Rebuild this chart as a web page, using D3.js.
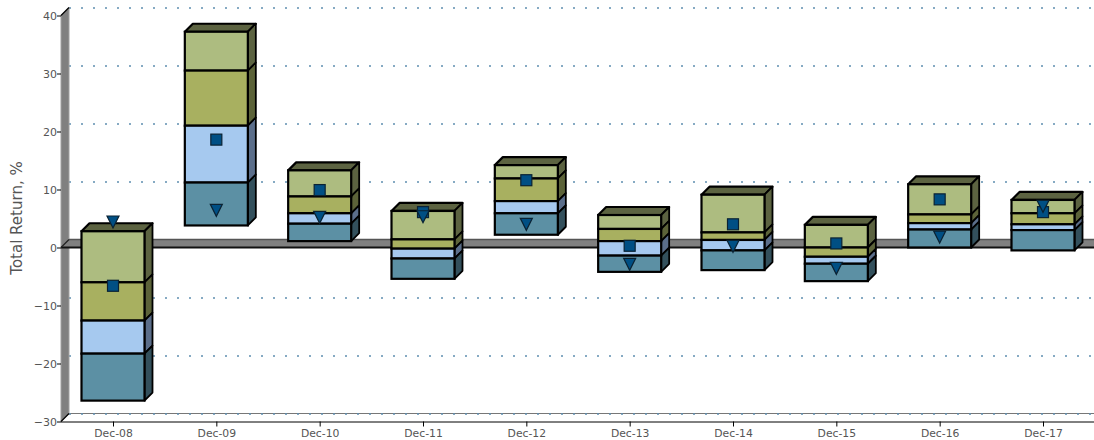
<!DOCTYPE html>
<html><head><meta charset="utf-8">
<script src="https://cdn.jsdelivr.net/npm/d3@7"></script>
<style>html,body{margin:0;padding:0;background:#fff}svg{display:block}text{font-family:"DejaVu Sans",sans-serif}</style>
</head><body><svg id="c" width="1094" height="440"></svg>
<script>
const categories=["Dec-08","Dec-09","Dec-10","Dec-11","Dec-12","Dec-13","Dec-14","Dec-15","Dec-16","Dec-17"];
const band95=[2.8,37.2,13.3,6.3,14.2,5.6,9.1,3.9,10.9,8.2];
const band75=[-6,30.5,8.8,1.4,11.9,3.2,2.6,0,5.7,5.9];
const band50=[-12.6,21,5.9,-0.2,8,1.1,1.3,-1.6,4.2,4];
const band25=[-18.3,11.2,4.1,-1.9,5.9,-1.4,-0.5,-2.8,3.1,3];
const band5=[-26.4,3.8,1.1,-5.4,2.2,-4.2,-3.9,-5.8,0,-0.5];
const fund=[-6.6,18.6,9.9,6.1,11.6,0.3,4,0.7,8.3,6.1];
const benchmark=[4.4,6.4,5.2,5.3,4,-2.9,0.2,-3.6,1.8,7.1];
const yTicks=[40,30,20,10,0,-10,-20,-30];
const bandFill=["#adbc80","#a8b060","#a6c9ef","#5c90a4"];
const bandSide=["#5c6341","#5c6339","#5b6e8a","#33505c"];
const topFill="#5c6341", marker="#004f84";
const W=1094,H=440,left=61,right=1094,depth=8;
const svg=d3.select("#c");
const y=d3.scaleLinear().domain([-30,40]).range([421.5,15.5]);
const x=d3.scalePoint().domain(categories).range([113,1043]);
const barW=63;

// back floor line, then the dotted grid on top of it
svg.append("line").attr("x1",left+depth).attr("x2",right).attr("y1",y(-30)-depth).attr("y2",y(-30)-depth).attr("stroke","#777").attr("stroke-width",1.2);
const grid=svg.append("g");
yTicks.filter(v=>v!==0).forEach(v=>{
  grid.append("line").attr("x1",left+depth).attr("x2",right).attr("y1",y(v)-depth+.5).attr("y2",y(v)-depth+.5)
    .attr("stroke","#5f8fb0").attr("stroke-width",1.5).attr("stroke-dasharray","2 10");
});
// left wall
svg.append("path").attr("d",`M${left},${y(40)}L${left+depth},${y(40)-depth}L${left+depth},${y(-30)-depth}L${left},${y(-30)}Z`)
  .attr("fill","#808080").attr("stroke","#a0a0a0").attr("stroke-width",1);
svg.append("line").attr("x1",left).attr("x2",left+depth).attr("y1",y(40)).attr("y2",y(40)-depth).attr("stroke","#000").attr("stroke-width",1.2);
svg.append("line").attr("x1",left).attr("x2",left+depth).attr("y1",y(-30)).attr("y2",y(-30)-depth).attr("stroke","#000").attr("stroke-width",1.2);
// zero plane
svg.append("path").attr("d",`M${left},${y(0)}L${left+depth},${y(0)-depth}L${right+2},${y(0)-depth}L${right+2},${y(0)}Z`)
  .attr("fill","#808080").attr("stroke","none");
svg.append("line").attr("x1",left+depth).attr("x2",right).attr("y1",y(0)-depth).attr("y2",y(0)-depth).attr("stroke","#555").attr("stroke-width",1.4);
svg.append("line").attr("x1",left).attr("x2",right).attr("y1",y(0)).attr("y2",y(0)).attr("stroke","#111").attr("stroke-width",2);
svg.append("line").attr("x1",left).attr("x2",left+depth).attr("y1",y(0)).attr("y2",y(0)-depth).attr("stroke","#222").attr("stroke-width",1.2);

// bars
const stacks=categories.map((c,i)=>[band95[i],band75[i],band50[i],band25[i],band5[i]]);
const bars=svg.selectAll("g.bar").data(categories).join("g").attr("class","bar");
bars.each(function(c,i){
  const g=d3.select(this),s=stacks[i],x0=x(c)-barW/2,x1=x0+barW;
  g.append("path").attr("d",`M${x0},${y(s[0])}l${depth},${-depth}h${barW}l${-depth},${depth}Z`)
    .attr("fill",topFill).attr("stroke","#000").attr("stroke-width",2.2).attr("stroke-linejoin","round");
  for(let k=0;k<4;k++){
    const a=y(s[k]),b=y(s[k+1]);
    g.append("path").attr("d",`M${x1},${a}l${depth},${-depth}V${b-depth}L${x1},${b}Z`)
      .attr("fill",bandSide[k]).attr("stroke","#000").attr("stroke-width",1.8).attr("stroke-linejoin","round");
  }
  for(let k=0;k<4;k++){
    const a=y(s[k]),b=y(s[k+1]);
    g.append("rect").attr("x",x0).attr("y",a).attr("width",barW).attr("height",b-a)
      .attr("fill",bandFill[k]).attr("stroke","#000").attr("stroke-width",2.2);
  }
});
// markers
const sq=11,tw=12,th=12;
svg.selectAll("rect.fund").data(categories).join("rect").attr("class","fund")
  .attr("x",c=>x(c)-sq/2).attr("y",(c,i)=>y(fund[i])-sq/2).attr("width",sq).attr("height",sq)
  .attr("fill",marker).attr("stroke","#0a2233").attr("stroke-width",1.2);
svg.selectAll("path.bm").data(categories).join("path").attr("class","bm")
  .attr("d",(c,i)=>{const cx=x(c),cy=y(benchmark[i]);return `M${cx-tw/2},${cy-th/2}h${tw}L${cx},${cy+th/2}Z`;})
  .attr("fill",marker).attr("stroke","#0a2233").attr("stroke-width",1.2);

// axes
const yAxis=d3.axisLeft(y).tickValues(yTicks).tickSize(4).tickPadding(0).tickFormat(d3.format("d"));
const gy=svg.append("g").attr("transform",`translate(${left},0)`).call(yAxis);
const xAxis=d3.axisBottom(x).tickSize(5).tickPadding(3);
const gx=svg.append("g").attr("transform",`translate(0,${y(-30)})`).call(xAxis);
gx.select(".domain").attr("d",`M${left},0.5H${right}`).attr("stroke","#000");
gy.select(".domain").remove();
gy.selectAll("text").attr("font-size",11).attr("fill","#555").attr("dy","0.4em").style("font-family",'"DejaVu Sans",sans-serif');
gx.selectAll("text").attr("font-size",10.8).attr("fill","#555").style("font-family",'"DejaVu Sans",sans-serif');
svg.append("text").attr("transform","translate(22,218) rotate(-90)").attr("text-anchor","middle")
  .attr("font-size",15).attr("fill","#555").text("Total Return, %");
</script></body></html>
